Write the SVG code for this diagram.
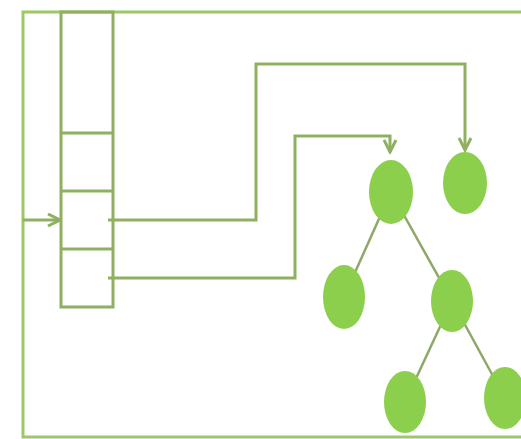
<svg xmlns="http://www.w3.org/2000/svg" width="521" height="439" viewBox="0 0 521 439">
<defs>
<style>
.frame{fill:none;stroke:#9cc865;stroke-width:3}
.cell{fill:none;stroke:#8fb060;stroke-width:3}
.conn{fill:none;stroke:#8fb060;stroke-width:3;stroke-linejoin:miter}
.edge{stroke:#8fa868;stroke-width:2.5}
.node{fill:#8bcf4c}
</style>
<marker id="arr" viewBox="0 0 10 10" refX="9" refY="5" markerWidth="5" markerHeight="5" orient="auto" markerUnits="strokeWidth">
<path d="M1,1 L9,5 L1,9" fill="none" stroke="#8fb060" stroke-width="2"/>
</marker>
</defs>
<rect width="521" height="439" fill="#ffffff"/>
<g id="frame">
<path class="frame" d="M530,12 H23 V437 H530"/>
</g>
<g id="table">
<rect class="cell" x="61" y="12" width="52" height="295"/>
<line class="cell" x1="61" y1="133" x2="113" y2="133"/>
<line class="cell" x1="61" y1="191" x2="113" y2="191"/>
<line class="cell" x1="61" y1="249" x2="113" y2="249"/>
</g>
<g id="connectors">
<line class="conn" x1="23" y1="220" x2="60" y2="220" marker-end="url(#arr)"/>
<path class="conn" d="M108,220 H256 V64 H465 V150" marker-end="url(#arr)"/>
<path class="conn" d="M108,278 H295 V136 H390 V152" marker-end="url(#arr)"/>
<line class="edge" x1="391" y1="192" x2="344" y2="297"/>
<line class="edge" x1="391" y1="192" x2="452" y2="301"/>
<line class="edge" x1="452" y1="301" x2="405" y2="402"/>
<line class="edge" x1="452" y1="301" x2="505" y2="398"/>
</g>
<g id="root"><ellipse class="node" cx="391" cy="192" rx="22" ry="32"/></g>
<g id="single"><ellipse class="node" cx="465" cy="183" rx="22" ry="31"/></g>
<g id="left-child"><ellipse class="node" cx="344" cy="297" rx="21" ry="32"/></g>
<g id="right-child"><ellipse class="node" cx="452" cy="301" rx="21" ry="31"/></g>
<g id="leaf-left"><ellipse class="node" cx="405" cy="402" rx="21" ry="31"/></g>
<g id="leaf-right"><ellipse class="node" cx="505" cy="398" rx="21" ry="31"/></g>
</svg>
